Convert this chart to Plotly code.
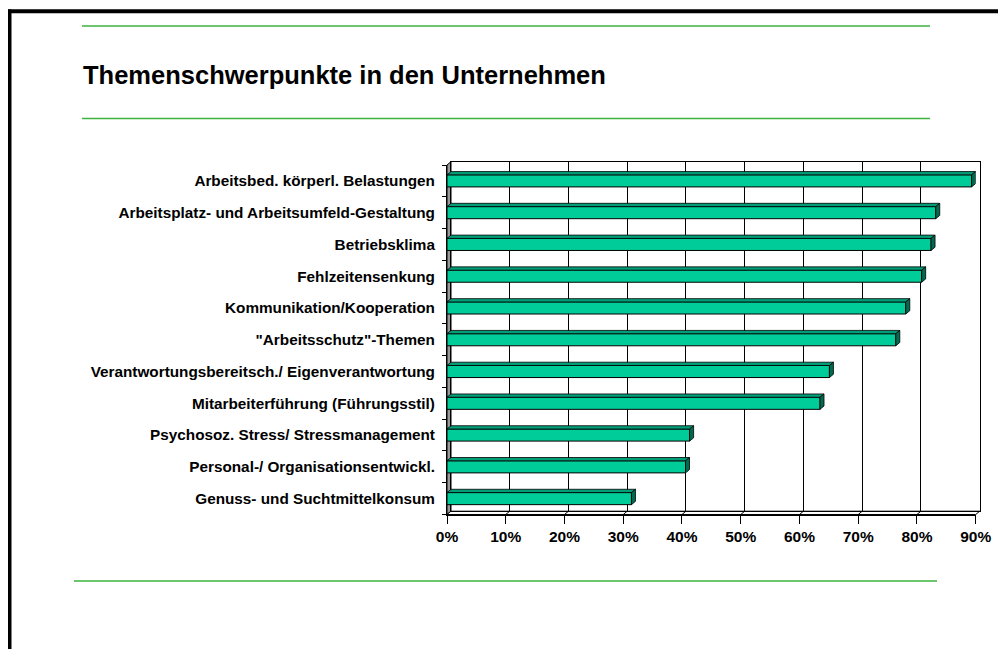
import plotly.graph_objects as go

# categories top -> bottom, share of companies
categories = [
    "Arbeitsbed. körperl. Belastungen",
    "Arbeitsplatz- und Arbeitsumfeld-Gestaltung",
    "Betriebsklima",
    "Fehlzeitensenkung",
    "Kommunikation/Kooperation",
    "\"Arbeitsschutz\"-Themen",
    "Verantwortungsbereitsch./ Eigenverantwortung",
    "Mitarbeiterführung (Führungsstil)",
    "Psychosoz. Stress/ Stressmanagement",
    "Personal-/ Organisationsentwickl.",
    "Genuss- und Suchtmittelkonsum",
]
values = [0.893, 0.832, 0.824, 0.808, 0.781, 0.764, 0.651, 0.635, 0.413, 0.406, 0.314]
x_ticks = [0, 0.1, 0.2, 0.3, 0.4, 0.5, 0.6, 0.7, 0.8, 0.9]

# page body has an 8px margin, so the figure is shifted by that much
OFF = 8
W, H = 1006 - OFF, 649 - OFF
FONT = "Liberation Sans, Arial, sans-serif"
FRONT = "#00CC99"
TOP = "#009E78"
SIDE = "#006B50"
GREEN = "#3DB33D"

# plot geometry in page pixels (front plane), depth offset of the 3D box
fx0, fx1 = 447.0, 975.7
fy0, fy1 = 165.0, 514.5
ddx, ddy = 4.0, 3.3


def px(x):
    return (x - OFF) / W


def py(y):
    return 1 - (y - OFF) / H


n = len(categories)
pos = list(range(n))
xmax = x_ticks[-1]
dx = ddx / ((fx1 - fx0) / xmax)
dy = ddy / ((fy1 - fy0) / n)
hw = 0.19

# 3D faces of the bars, built from the values
top_x, top_y, side_x, side_y = [], [], [], []
for yc, v in zip(pos, values):
    t = yc - hw
    b = yc + hw
    top_x += [0, dx, v + dx, v, 0, None]
    top_y += [t, t - dy, t - dy, t, t, None]
    side_x += [v, v + dx, v + dx, v, v, None]
    side_y += [t, t - dy, b - dy, b, t, None]

fig = go.Figure()

# back wall (empty subplot only carrying the grid)
fig.add_trace(go.Scatter(x=[None], y=[None], xaxis="x", yaxis="y",
                         showlegend=False, hoverinfo="skip"))

fig.add_trace(go.Bar(
    x=values, y=pos, orientation="h", width=2 * hw,
    marker=dict(color=FRONT, line=dict(color="black", width=1)),
    xaxis="x2", yaxis="y2", showlegend=False, hoverinfo="x+text",
    text=categories, textposition="none",
))
fig.add_trace(go.Scatter(
    x=top_x, y=top_y, mode="lines", fill="toself", fillcolor=TOP,
    line=dict(color="black", width=0.8), xaxis="x2", yaxis="y2",
    showlegend=False, hoverinfo="skip",
))
fig.add_trace(go.Scatter(
    x=side_x, y=side_y, mode="lines", fill="toself", fillcolor=SIDE,
    line=dict(color="black", width=0.8), xaxis="x2", yaxis="y2",
    showlegend=False, hoverinfo="skip",
))

# side wall + floor of the 3D box
bx0, by0, by1 = fx0 + ddx, fy0 - ddy, fy1 - ddy
floor = f"M{fx0},{fy1} L{bx0},{by1} L{fx1 + ddx},{by1} L{fx1},{fy1} Z"
for t in x_ticks[1:-1]:
    xt = fx0 + (fx1 - fx0) * t / xmax
    floor += f" M{xt},{fy1} L{xt + ddx},{by1}"


def to_paper(path):
    out = []
    for tok in path.split():
        if tok[0] in "ML":
            a, b = tok[1:].split(",")
            out.append(f"{tok[0]}{px(float(a)):.5f},{py(float(b)):.5f}")
        else:
            out.append(tok)
    return " ".join(out)


shapes = [
    dict(type="path", xref="paper", yref="paper", layer="below",
         path=to_paper(f"M{fx0},{fy0} L{bx0},{by0} L{bx0},{by1} L{fx0},{fy1} Z"),
         fillcolor="#9A9A9A", line=dict(color="black", width=1)),
    dict(type="path", xref="paper", yref="paper", layer="below",
         path=to_paper(floor), fillcolor="white", line=dict(color="black", width=1)),
    # slide frame
    dict(type="line", xref="paper", yref="paper", x0=px(9.5), x1=px(9.5), y0=py(9.5), y1=0,
         line=dict(color="black", width=4)),
    dict(type="line", xref="paper", yref="paper", x0=px(7.5), x1=1, y0=py(11.3), y1=py(11.3),
         line=dict(color="black", width=4)),
    # green rules
    dict(type="line", xref="paper", yref="paper", x0=px(82), x1=px(930), y0=py(26), y1=py(26),
         line=dict(color=GREEN, width=1.5)),
    dict(type="line", xref="paper", yref="paper", x0=px(82), x1=px(930), y0=py(118.5), y1=py(118.5),
         line=dict(color=GREEN, width=1.5)),
    dict(type="line", xref="paper", yref="paper", x0=px(74), x1=px(937), y0=py(581), y1=py(581),
         line=dict(color=GREEN, width=1.5)),
]

fig.update_layout(
    template="none",
    width=W, height=H,
    margin=dict(l=0, r=0, t=0, b=0, autoexpand=False),
    paper_bgcolor="white",
    plot_bgcolor="rgba(0,0,0,0)",
    font=dict(family=FONT, color="black"),
    showlegend=False,
    shapes=shapes,
    annotations=[dict(
        text="Themenschwerpunkte in den Unternehmen", xref="paper", yref="paper",
        x=px(81), y=py(75), xanchor="left", yanchor="middle", showarrow=False,
        font=dict(family=FONT, size=25.5, weight="bold", color="black"),
    )],
    # back wall
    xaxis=dict(domain=[px(fx0 + ddx), px(fx1 + ddx)], range=[0, xmax], anchor="y",
               tickvals=x_ticks, showticklabels=False, ticks="", automargin=False,
               showgrid=True, gridcolor="black", gridwidth=1, zeroline=False,
               showline=True, linecolor="black", linewidth=1, mirror=True),
    yaxis=dict(domain=[py(fy1 - ddy), py(fy0 - ddy)], range=[0, 1], anchor="x",
               showticklabels=False, ticks="", showgrid=False, zeroline=False,
               automargin=False,
               showline=True, linecolor="black", linewidth=1, mirror=True),
    # front plane with bars
    xaxis2=dict(domain=[px(fx0), px(fx1)], range=[0, xmax], anchor="y2",
                tickvals=x_ticks, tickformat=".0%", ticks="outside", ticklen=8,
                tickcolor="black", showgrid=False, zeroline=False, automargin=False,
                showline=True, linecolor="black", linewidth=1,
                tickfont=dict(family=FONT, size=15.5, weight="bold")),
    yaxis2=dict(domain=[py(fy1), py(fy0)], range=[n - 0.5, -0.5], anchor="x2",
                tickvals=pos, ticktext=categories, ticks="", showgrid=False,
                zeroline=False, showline=True, linecolor="black", linewidth=1,
                ticklabelstandoff=8, automargin=False,
                minor=dict(tick0=-0.5, dtick=1, ticks="outside", ticklen=4,
                           tickcolor="black", showgrid=False),
                tickfont=dict(family=FONT, size=15.3, weight="bold")),
)

fig.write_html("out.html")
